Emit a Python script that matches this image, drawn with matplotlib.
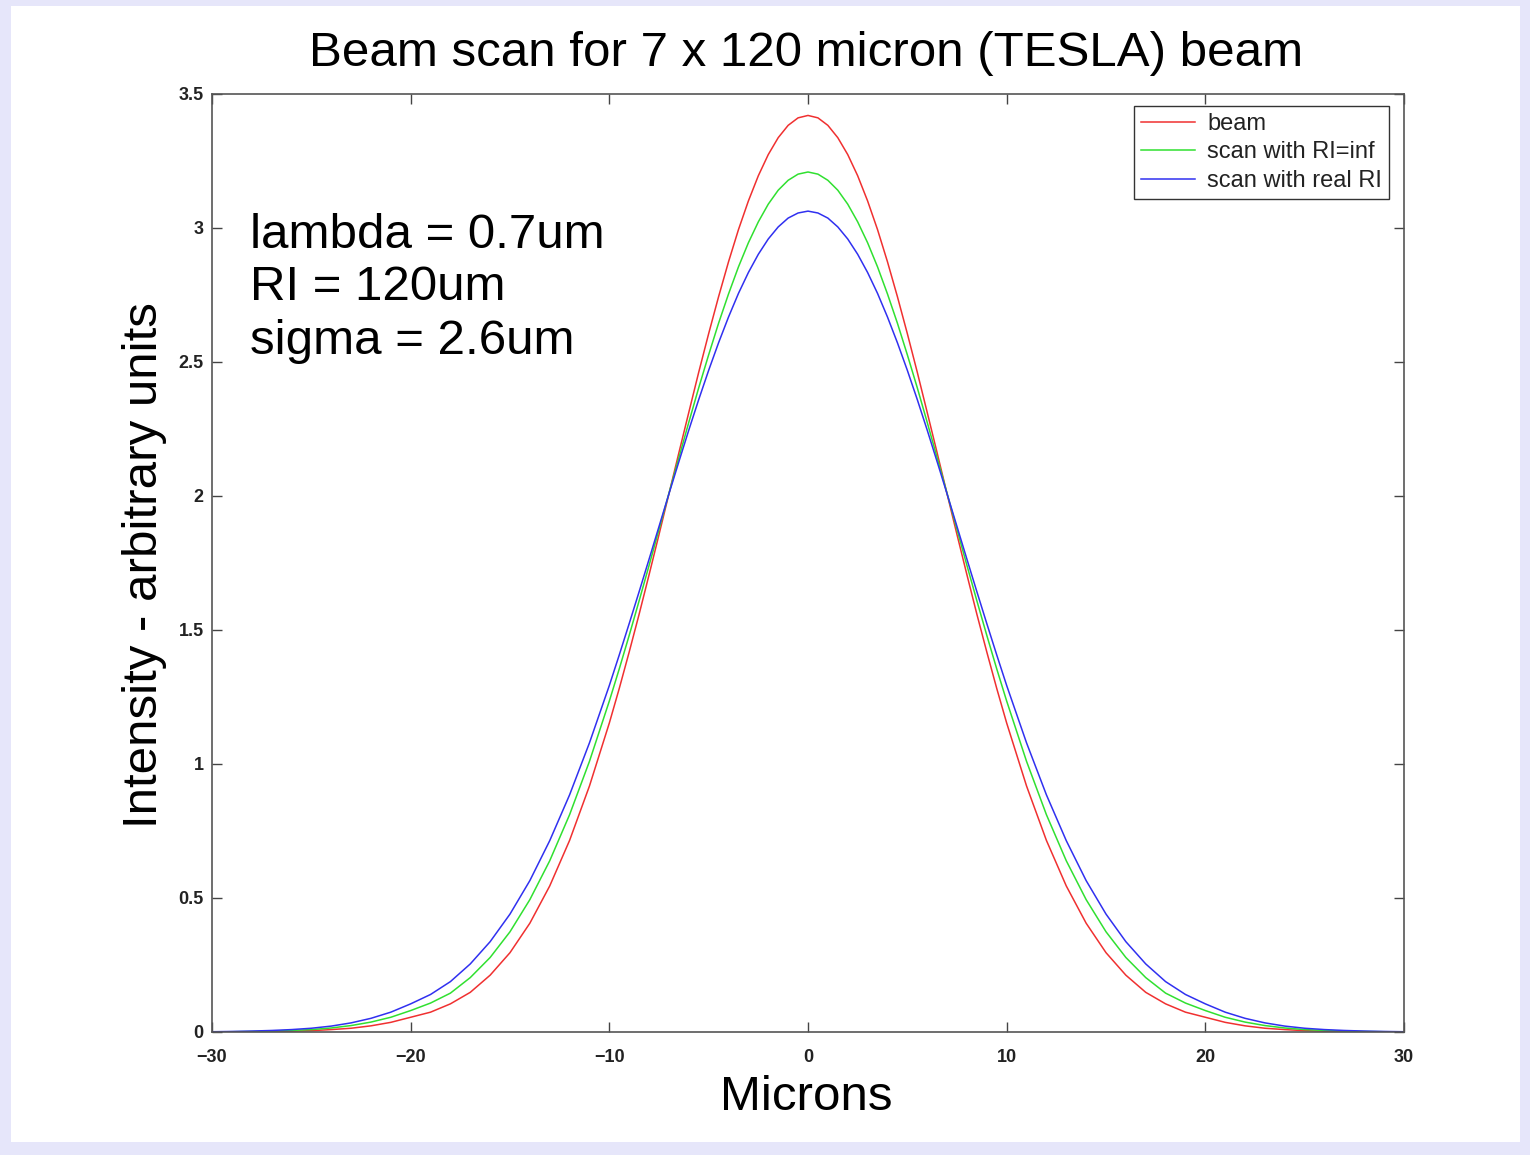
import matplotlib
matplotlib.use("Agg")
import matplotlib.pyplot as plt
from matplotlib.patches import Rectangle

plt.rcParams['font.family'] = ['Liberation Sans', 'DejaVu Sans']

# positions along the scan, in microns (finer steps near the peak)
microns = ([-30, -29, -28, -27, -26, -25, -24, -23, -22, -21,
            -20, -19, -18, -17, -16, -15, -14, -13, -12, -11,
            -10, -9.5, -9, -8.5, -8, -7.5, -7, -6.5, -6, -5.5,
            -5, -4.5, -4, -3.5, -3, -2.5, -2, -1.5, -1, -0.5,
            0,
            0.5, 1, 1.5, 2, 2.5, 3, 3.5, 4, 4.5, 5,
            5.5, 6, 6.5, 7, 7.5, 8, 8.5, 9, 9.5, 10,
            11, 12, 13, 14, 15, 16, 17, 18, 19, 20,
            21, 22, 23, 24, 25, 26, 27, 28, 29, 30])

# values
beam = [0.0003, 0.0005, 0.001, 0.002, 0.003, 0.005, 0.009, 0.014, 0.023, 0.036,
        0.055, 0.074, 0.105, 0.148, 0.212, 0.296, 0.406, 0.545, 0.715, 0.918,
        1.153, 1.282, 1.418, 1.559, 1.706, 1.856, 2.008, 2.161, 2.312, 2.462,
        2.606, 2.744, 2.874, 2.994, 3.101, 3.195, 3.274, 3.337, 3.383, 3.411,
        3.420,
        3.411, 3.383, 3.337, 3.274, 3.195, 3.101, 2.994, 2.874, 2.744, 2.606,
        2.462, 2.312, 2.161, 2.008, 1.856, 1.706, 1.559, 1.418, 1.282, 1.153,
        0.918, 0.715, 0.545, 0.406, 0.296, 0.212, 0.148, 0.105, 0.074, 0.055,
        0.036, 0.023, 0.014, 0.009, 0.005, 0.003, 0.002, 0.001, 0.0005, 0.0003]

scan_inf = [0.0005, 0.001, 0.002, 0.0035, 0.006, 0.009, 0.015, 0.024, 0.037, 0.055,
            0.080, 0.108, 0.145, 0.203, 0.278, 0.374, 0.494, 0.639, 0.811, 1.010,
            1.235, 1.355, 1.480, 1.609, 1.741, 1.875, 2.010, 2.143, 2.275, 2.404,
            2.527, 2.645, 2.754, 2.855, 2.945, 3.023, 3.089, 3.141, 3.178, 3.201,
            3.209,
            3.201, 3.178, 3.141, 3.089, 3.023, 2.945, 2.855, 2.754, 2.645, 2.527,
            2.404, 2.275, 2.143, 2.010, 1.875, 1.741, 1.609, 1.480, 1.355, 1.235,
            1.010, 0.811, 0.639, 0.494, 0.374, 0.278, 0.203, 0.145, 0.108, 0.080,
            0.055, 0.037, 0.024, 0.015, 0.009, 0.006, 0.0035, 0.002, 0.001, 0.0005]

scan_real = [0.001, 0.002, 0.0035, 0.0057, 0.009, 0.014, 0.022, 0.034, 0.051, 0.074,
             0.105, 0.140, 0.188, 0.254, 0.337, 0.440, 0.565, 0.714, 0.885, 1.079,
             1.293, 1.407, 1.524, 1.643, 1.764, 1.886, 2.008, 2.128, 2.246, 2.360,
             2.469, 2.572, 2.668, 2.756, 2.834, 2.902, 2.959, 3.004, 3.037, 3.056,
             3.063,
             3.056, 3.037, 3.004, 2.959, 2.902, 2.834, 2.756, 2.668, 2.572, 2.469,
             2.360, 2.246, 2.128, 2.008, 1.886, 1.764, 1.643, 1.524, 1.407, 1.293,
             1.079, 0.885, 0.714, 0.565, 0.440, 0.337, 0.254, 0.188, 0.140, 0.105,
             0.074, 0.051, 0.034, 0.022, 0.014, 0.009, 0.0057, 0.0035, 0.002, 0.001]

xticks = [-30, -20, -10, 0, 10, 20, 30]
yticks = [0, 0.5, 1, 1.5, 2, 2.5, 3, 3.5]
ytick_labels = ['0', '0.5', '1', '1.5', '2', '2.5', '3', '3.5']
notes = ['lambda = 0.7um', 'RI = 120um', 'sigma = 2.6um']

W, H = 1530, 1155
fig = plt.figure(figsize=(W / 100, H / 100), dpi=100, facecolor='#e6e6fa')
# white page inside the lavender frame
fig.patches.append(Rectangle((11 / W, 1 - 1142 / H), 1509 / W, 1136 / H,
                             transform=fig.transFigure, facecolor='white',
                             edgecolor='none', zorder=-10))

ax = fig.add_axes([212 / W, 1 - 1032 / H, 1192 / W, 938 / H])
ax.set_zorder(2)
ax.plot(microns, beam, color='#f03030', lw=1.1, label='beam')
ax.plot(microns, scan_inf, color='#30e030', lw=1.1, label='scan with RI=inf')
ax.plot(microns, scan_real, color='#3030f0', lw=1.1, label='scan with real RI')

ax.set_xlim(-30, 30)
ax.set_ylim(0, 3.5)
ax.set_xticks(xticks)
ax.set_yticks(yticks)
ax.set_yticklabels(ytick_labels)
ax.tick_params(direction='in', length=7, width=1.0, color='#444444',
               top=True, right=True, labelsize=13)
ax.tick_params(axis='x', pad=12)
ax.tick_params(axis='y', pad=6)
for lab in ax.get_xticklabels() + ax.get_yticklabels():
    lab.set_fontweight('bold')
    lab.set_color('#222222')
for sp in ax.spines.values():
    sp.set_color('#555555')
    sp.set_linewidth(1.2)

leg = ax.legend(loc='upper right', bbox_to_anchor=(1 - 15 / 1192, 1 - 12 / 938),
                borderaxespad=0, fancybox=False, framealpha=1, fontsize=17,
                handlelength=2.3, labelspacing=0.27, borderpad=0.3,
                handletextpad=0.5)
leg.get_frame().set_edgecolor('#333333')
leg.get_frame().set_linewidth(1.0)
for t in leg.get_texts():
    t.set_color('#222222')

for i, t in enumerate(notes):
    ax.text((250 - 212) / 1192, (1032 - (235 + 53 * i)) / 938, t,
            transform=ax.transAxes, fontsize=35.5, va='center', ha='left')

fig.text(806 / W, 1 - 54 / H, 'Beam scan for 7 x 120 micron (TESLA) beam',
         fontsize=35.5, ha='center', va='center')
fig.text(806 / W, 1 - 1097 / H, 'Microns', fontsize=35.5, ha='center', va='center')
fig.text(145 / W, 1 - 565 / H, 'Intensity - arbitrary units', fontsize=35.5,
         rotation=90, ha='center', va='center')

fig.savefig('out.png', dpi=100, facecolor=fig.get_facecolor())
